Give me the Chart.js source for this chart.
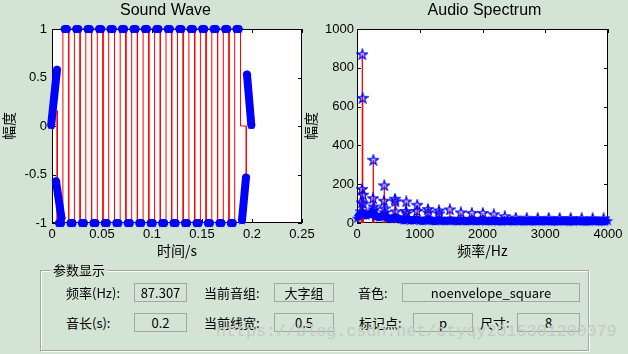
<!DOCTYPE html>
<html>
<head>
<meta charset="utf-8">
<script src="https://cdn.jsdelivr.net/npm/chart.js@4.4.1/dist/chart.umd.min.js"></script>
<style>
html, body { margin: 0; padding: 0; width: 628px; height: 354px; overflow: hidden; background: #d4e4d4; }
canvas { position: absolute; top: 0; }
#wave { left: 0; }
#spec { left: 294px; }
.panel { position: absolute; left: 40px; top: 270px; width: 547px; height: 79px; border: 1px solid #a0a8a0; box-shadow: 1px 1px 0 #fff, inset 1px 1px 0 #fff; }
.cap { position: absolute; left: 51px; top: 261px; padding: 0 2px; background: #d4e4d4; font: 13px "Noto Sans CJK SC"; line-height: 18px; }
.lbl { position: absolute; font: 13px "Noto Sans CJK SC"; line-height: 19px; color: #000; white-space: nowrap; }
.box { position: absolute; height: 17px; border: 1px solid #a0a8a0; text-align: center; font: 13px "Noto Sans CJK SC"; line-height: 17px; color: #000; }
.mark { position: absolute; left: 216px; top: 322px; font: 16.7px "Liberation Mono"; line-height: 20px; color: #c2cac2; white-space: nowrap; }
</style>
</head>
<body>
<canvas id="wave" width="331" height="262"></canvas>
<canvas id="spec" width="381" height="262"></canvas>

<div class="panel"></div>
<div class="cap">参数显示</div>

<div class="lbl" style="left:66px;top:283px">频率(Hz):</div>
<div class="box" style="left:134px;top:283px;width:51px">87.307</div>
<div class="lbl" style="left:204px;top:283px">当前音组:</div>
<div class="box" style="left:274px;top:283px;width:58px">大字组</div>
<div class="lbl" style="left:358px;top:283px">音色:</div>
<div class="box" style="left:402px;top:283px;width:176px">noenvelope_square</div>

<div class="lbl" style="left:66px;top:313px">音长(s):</div>
<div class="box" style="left:134px;top:313px;width:51px">0.2</div>
<div class="lbl" style="left:204px;top:313px">当前线宽:</div>
<div class="box" style="left:274px;top:313px;width:58px">0.5</div>
<div class="lbl" style="left:359px;top:313px">标记点:</div>
<div class="box" style="left:413px;top:313px;width:58px">p</div>
<div class="lbl" style="left:480px;top:313px">尺寸:</div>
<div class="box" style="left:517px;top:313px;width:61px">8</div>

<div class="mark">https://blog.csdn.net/ctyqy2015301200079</div>

<script>
// ---- wave data ----
// times where the square wave flips (s)
const waveEdges = [0.0052, 0.0109, 0.0167, 0.0224, 0.0281, 0.0338, 0.0396, 0.0453, 0.0510, 0.0567,
    0.0625, 0.0682, 0.0739, 0.0797, 0.0854, 0.0911, 0.0968, 0.1026, 0.1083, 0.1140,
    0.1197, 0.1255, 0.1312, 0.1369, 0.1427, 0.1484, 0.1541, 0.1598, 0.1656, 0.1713,
    0.1770, 0.1827, 0.1885];
// level held between two flips
const waveLevels = [-1, 1, -1, 1, -1, 1, -1, 1, -1, 1, -1, 1, -1, 1, -1, 1,
    -1, 1, -1, 1, -1, 1, -1, 1, -1, 1, -1, 1, -1, 1, -1, 1];
const waveStartLevel = 0.16;
const waveTailT = [0.1885, 0.1943, 0.1943];
const waveTailV = [0.0, 0.0, -0.5];
// the slanted marker bands at both ends
const rampT0 = [-0.0008, 0.0040, 0.1950, 0.1900];
const rampV0 = [0.01, -0.57, 0.53, -0.97];
const rampT1 = [0.0050, 0.0095, 0.1993, 0.1940];
const rampV1 = [0.58, -0.95, 0.01, -0.53];

// ---- spectrum data ----
const peakFreq = [70, 75, 80, 85, 90, 95, 100, 250, 255, 260, 265, 270, 430, 435, 440, 445,
    605, 610, 615, 780, 785, 790, 955, 960, 1130, 1135, 1305, 1310, 1480,
    1655, 1830, 2005, 2180, 2355, 2530, 2705, 2880, 3055, 3230, 3405, 3580, 3755, 3930];
const peakMag = [60, 106, 175, 870, 645, 146, 100, 60, 128, 326, 85, 70, 115, 194, 75, 55,
    125, 112, 60, 62, 111, 50, 62, 94, 72, 55, 65, 50, 70,
    55, 52, 52, 45, 35, 28, 27, 26, 27, 26, 26, 25, 25, 24];
// the dense floor of small bins
const bandFreq = [0, 50, 100, 150, 200, 250, 300, 350, 400, 450, 500, 550, 600, 650, 700, 750,
    800, 850, 900, 950, 1000, 1050, 1100, 1150, 1200, 1250, 1300, 1350, 1400, 1450, 1500,
    1550, 1600, 1650, 1700, 1750, 1800, 1850, 1900, 1950, 2000, 2050, 2100, 2150, 2200,
    2250, 2300, 2350, 2400, 2450, 2500, 2550, 2600, 2650, 2700, 2750, 2800, 2850, 2900,
    2950, 3000, 3050, 3100, 3150, 3200, 3250, 3300, 3350, 3400, 3450, 3500, 3550, 3600,
    3650, 3700, 3750, 3800, 3850, 3900, 3950, 4000];
const bandMag = [25, 45, 50, 40, 45, 50, 35, 30, 35, 35, 25, 22, 30, 25, 18, 15,
    20, 14, 15, 18, 13, 12, 14, 15, 12, 11, 14, 12, 11, 12, 14,
    11, 10, 13, 11, 10, 12, 13, 10, 11, 13, 10, 11, 10, 12,
    10, 9, 12, 10, 11, 9, 12, 10, 9, 11, 10, 9, 10, 11,
    9, 10, 11, 9, 10, 9, 11, 10, 9, 10, 9, 11, 10, 9,
    10, 9, 11, 10, 9, 10, 9, 12];

const blue = '#0000ff';
const red = '#ff0000';
const latinFont = '"Liberation Sans", Arial, sans-serif';
const cjkFont = '"Noto Sans CJK SC", sans-serif';

// pentagram marker drawn once and used as a point style
function pentagram(size, filled) {
    const c = document.createElement('canvas');
    c.width = size;
    c.height = size;
    const g = c.getContext('2d');
    const R = size / 2 - (filled ? 0 : 0.8);
    const r = R * 0.382;
    const cx = size / 2, cy = size / 2 + R * 0.095;
    g.beginPath();
    for (let i = 0; i < 10; i++) {
        const rad = i % 2 ? r : R;
        const a = -Math.PI / 2 + i * Math.PI / 5;
        g.lineTo(cx + rad * Math.cos(a), cy + rad * Math.sin(a));
    }
    g.closePath();
    if (filled) {
        g.fillStyle = blue;
        g.fill();
    } else {
        g.strokeStyle = blue;
        g.lineWidth = 1.3;
        g.stroke();
    }
    return c;
}
const starSolid = pentagram(10, true);
const starBand = pentagram(11, true);
const starOpen = pentagram(12, false);

// white axes box with inward ticks on all four sides
const matlabBox = {
    id: 'matlabBox',
    beforeDatasetsDraw(chart) {
        const {ctx, chartArea: a, scales: {x, y}} = chart;
        ctx.save();
        ctx.fillStyle = '#fff';
        ctx.fillRect(a.left, a.top, a.right - a.left, a.bottom - a.top);
        ctx.strokeStyle = '#000';
        ctx.lineWidth = 1;
        ctx.strokeRect(a.left + 0.5, a.top + 0.5, a.right - a.left - 1, a.bottom - a.top - 1);
        ctx.beginPath();
        x.ticks.forEach(t => {
            const px = Math.round(x.getPixelForValue(t.value)) + 0.5;
            ctx.moveTo(px, a.bottom); ctx.lineTo(px, a.bottom - 4);
            ctx.moveTo(px, a.top); ctx.lineTo(px, a.top + 4);
        });
        y.ticks.forEach(t => {
            const py = Math.round(y.getPixelForValue(t.value)) + 0.5;
            ctx.moveTo(a.left, py); ctx.lineTo(a.left + 4, py);
            ctx.moveTo(a.right, py); ctx.lineTo(a.right - 4, py);
        });
        ctx.stroke();
        ctx.restore();
    }
};

function axisOptions(o) {
    const tickFont = {family: latinFont, size: 13};
    const titleFont = {family: cjkFont, size: 14};
    return {
        x: {
            type: 'linear', min: o.xMin, max: o.xMax,
            grid: {display: false, drawTicks: false}, border: {display: false},
            ticks: {stepSize: o.xStep, padding: 3.5, autoSkip: false, maxRotation: 0, color: '#000', font: tickFont,
                callback: v => String(Math.round(v * 1000) / 1000)},
            title: {display: true, text: o.xTitle, color: '#000', font: titleFont, padding: {top: 0, bottom: 2.6}},
            afterFit(s) { s.height = 39; }
        },
        y: {
            type: 'linear', position: 'left', min: o.yMin, max: o.yMax,
            grid: {display: false, drawTicks: false}, border: {display: false},
            ticks: {stepSize: o.yStep, padding: o.yPad, color: '#000', font: tickFont,
                callback: v => String(Math.round(v * 1000) / 1000)},
            title: {display: true, text: '幅度', color: '#000', font: titleFont, padding: {top: o.yTitlePad, bottom: 0}},
            afterFit(s) { s.width = o.yWidth; }
        },
        pad: {
            type: 'linear', position: 'right', display: true,
            grid: {display: false, drawTicks: false}, border: {display: false},
            ticks: {display: false},
            afterFit(s) { s.width = o.rightWidth; }
        }
    };
}

function baseOptions(title, scales) {
    return {
        responsive: false,
        animation: false,
        events: [],
        layout: {padding: 0},
        plugins: {
            legend: {display: false},
            tooltip: {enabled: false},
            title: {display: true, text: title, color: '#000',
                font: {family: latinFont, size: 16, weight: 'normal'}, padding: {top: 1.4, bottom: 8.4}}
        },
        scales: scales
    };
}

// ---- build the wave chart ----
const wavePath = [{x: waveEdges[0], y: waveStartLevel}];
waveLevels.forEach((lv, i) => {
    wavePath.push({x: waveEdges[i], y: lv}, {x: waveEdges[i + 1], y: lv});
});
waveTailT.forEach((t, i) => wavePath.push({x: t, y: waveTailV[i]}));

const inset = 0.0018;
const waveMarks = [];
waveLevels.forEach((lv, i) => {
    waveMarks.push({x: waveEdges[i] + inset, y: lv}, {x: waveEdges[i + 1] - inset, y: lv}, {x: waveEdges[i + 1], y: null});
});
rampT0.forEach((t, i) => {
    waveMarks.push({x: t, y: rampV0[i]}, {x: rampT1[i], y: rampV1[i]}, {x: rampT1[i], y: null});
});

new Chart(document.getElementById('wave'), {
    type: 'scatter',
    data: {
        datasets: [
            {data: waveMarks, showLine: true, spanGaps: false, borderColor: blue, borderWidth: 8, borderCapStyle: 'round',
                pointStyle: starSolid, pointRadius: 4, clip: false, order: 0, xAxisID: 'x', yAxisID: 'y'},
            {data: wavePath, showLine: true, borderColor: red, borderWidth: 1, pointRadius: 0,
                clip: false, order: 1, xAxisID: 'x', yAxisID: 'y'}
        ]
    },
    options: baseOptions('Sound Wave', axisOptions({
        xMin: 0, xMax: 0.25, xStep: 0.05, xTitle: '时间/s',
        yMin: -1, yMax: 1, yStep: 0.5, yPad: 5, yTitlePad: 0, yWidth: 52, rightWidth: 29
    })),
    plugins: [matlabBox]
});

// ---- build the spectrum chart ----
const stems = [];
peakFreq.forEach((f, i) => stems.push({x: f, y: 0}, {x: f, y: peakMag[i]}, {x: f, y: null}));
const peaks = peakFreq.map((f, i) => ({x: f, y: peakMag[i]}));
const band = bandFreq.map((f, i) => ({x: f, y: bandMag[i]}));

new Chart(document.getElementById('spec'), {
    type: 'scatter',
    data: {
        datasets: [
            {data: peaks, pointStyle: starOpen, pointRadius: 5, clip: false, order: 0, xAxisID: 'x', yAxisID: 'y'},
            {data: band, showLine: true, borderColor: blue, borderWidth: 8, pointStyle: starBand, pointRadius: 5,
                clip: false, order: 1, xAxisID: 'x', yAxisID: 'y'},
            {data: stems, showLine: true, spanGaps: false, borderColor: red, borderWidth: 1.3, pointRadius: 0,
                clip: false, order: 2, xAxisID: 'x', yAxisID: 'y'}
        ]
    },
    options: baseOptions('Audio Spectrum', axisOptions({
        xMin: 0, xMax: 4000, xStep: 1000, xTitle: '频率/Hz',
        yMin: 0, yMax: 1000, yStep: 200, yPad: 3, yTitlePad: 8.6, yWidth: 63, rightWidth: 67
    })),
    plugins: [matlabBox]
});
</script>
</body>
</html>
